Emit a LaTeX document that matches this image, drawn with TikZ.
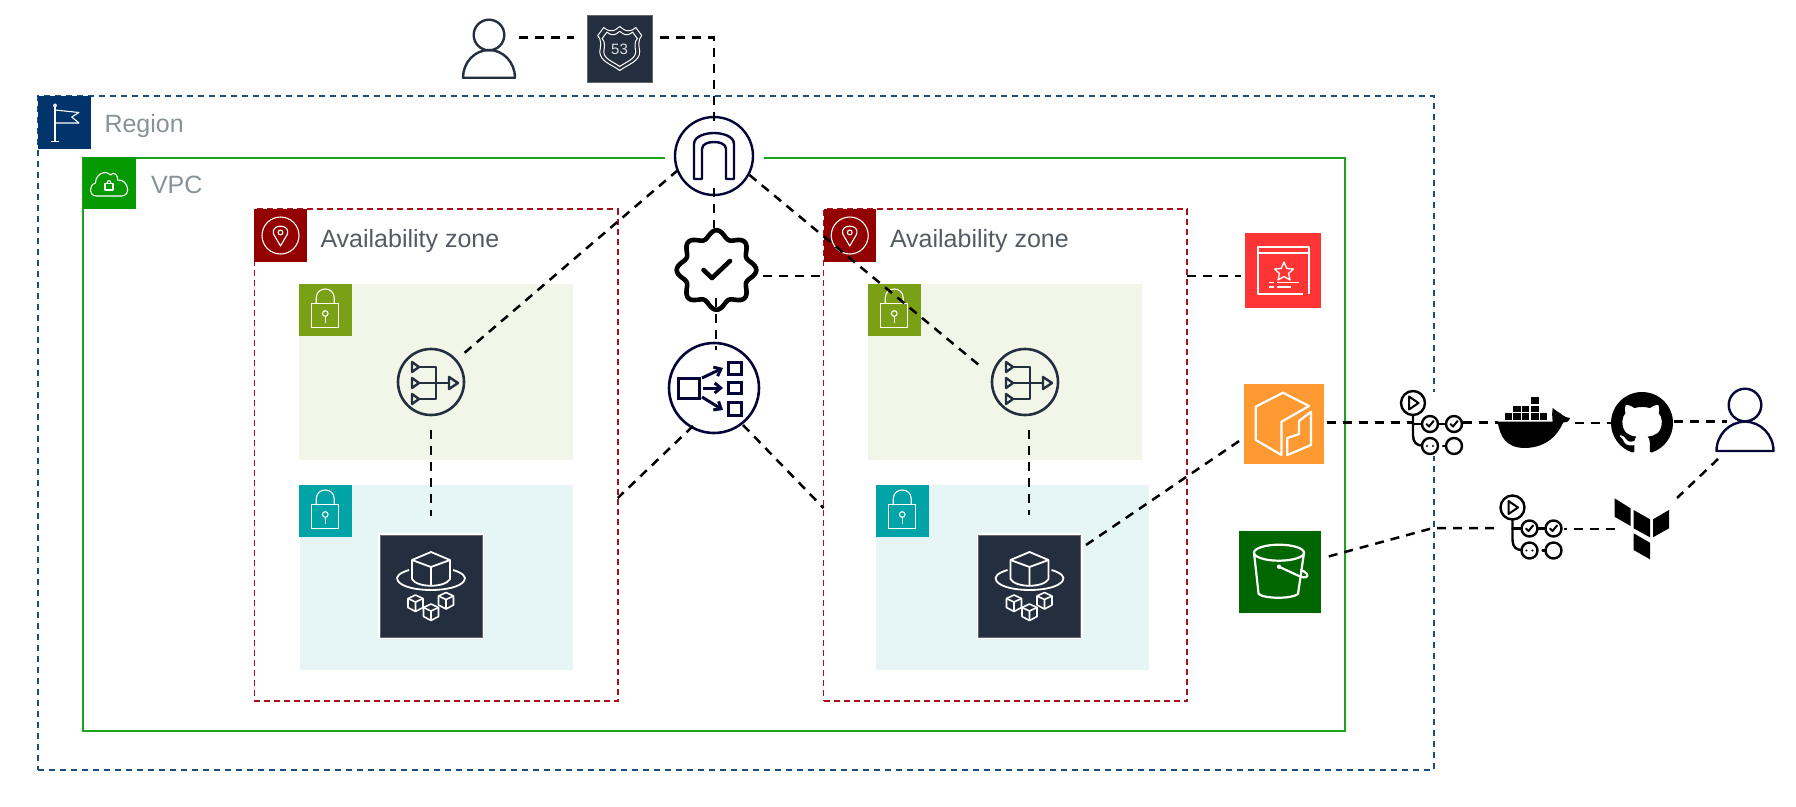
\documentclass[tikz,border=0pt]{standalone}
\usepackage{fontspec}
\setmainfont{Liberation Sans}
\usetikzlibrary{arrows.meta,svg.path}
\definecolor{regionc}{HTML}{1B4F80}
\definecolor{regiontag}{HTML}{00346B}
\definecolor{vpcc}{HTML}{1CA51C}
\definecolor{vpctag}{HTML}{069A00}
\definecolor{azc}{HTML}{A5101E}
\definecolor{aztag}{HTML}{930000}
\definecolor{pubfill}{HTML}{F2F6E8}
\definecolor{pubtag}{HTML}{7AA116}
\definecolor{privfill}{HTML}{E6F6F7}
\definecolor{privtag}{HTML}{00A4A6}
\definecolor{slate}{HTML}{232F3E}
\definecolor{navy}{HTML}{05053A}
\definecolor{certc}{HTML}{FF3535}
\definecolor{ecrc}{HTML}{FF9A33}
\definecolor{s3c}{HTML}{006600}
\definecolor{greytxt}{HTML}{879196}
\definecolor{darktxt}{HTML}{545B64}
\tikzset{
  x=1pt,y=-1pt,
  box/.style={inner sep=0pt,outer sep=0pt,minimum width=#1},
  conn/.style={draw=black,line width=2.5pt,dash pattern=on 9pt off 7pt},
  regionbox/.style={box=1396pt,minimum height=674pt,draw=regionc,line width=1.3pt,dash pattern=on 6pt off 5pt},
  vpcbox/.style={box=1262pt,minimum height=573pt,draw=vpcc,line width=1.6pt},
  azbox/.style={box=363.5pt,minimum height=492pt,draw=azc,line width=1.5pt,dash pattern=on 6pt off 4pt},
  tagbox/.style={box=52.5pt,minimum height=52.5pt,fill=#1},
  subnetbox/.style 2 args={box=#1,minimum height=#2},
  iconnode/.style 2 args={box=#1,minimum height=#2},
  sq/.style={box=#1,minimum height=#1},
  disc/.style={circle,inner sep=0pt,outer sep=0pt,minimum size=#1,fill=white},
  lbl/.style={inner sep=0pt,outer sep=0pt,anchor=base west,font=\fontsize{25}{30}\selectfont},
  wl/.style={draw=white,line width=1.1pt,line join=round},
  wt/.style={draw=white,line width=2.2pt,line join=round,line cap=round},
  ink/.style={draw=black,line width=2.4pt,line cap=round,line join=round},
}
\newcommand{\lockicon}[1]{%
  \begin{scope}[shift={(#1.center)}]
    \draw[wl] (-14,-6.5) rectangle (13,17.5);
    \draw[wl] (-9,-6.5) -- (-9,-12) .. controls (-9,-24) and (9,-24) .. (9,-12) -- (9,-6.5);
    \draw[wl] (0,3.5) circle (2.8);
    \draw[wl] (0,6.3) -- (0,13);
  \end{scope}}
\newcommand{\pinicon}[1]{%
  \begin{scope}[shift={(#1.center)}]
    \draw[wl] (0,0) circle (18.5);
    \draw[wl] (0,10.5) -- (-7,-1.5) .. controls (-10,-12) and (10,-12) .. (7,-1.5) -- cycle;
    \draw[wl] (0,-3) circle (2.4);
  \end{scope}}
\newcommand{\naticon}[1]{%
  \begin{scope}[shift={(#1.center)},line join=round]
    \draw[draw=slate,line width=2.6pt] (0,0) circle (33);
    \foreach \yy in {-15,1,17} {\draw[draw=slate,line width=2.4pt] (-19,\yy-5) -- (-12,\yy) -- (-19,\yy+5) -- cycle;}
    \draw[draw=slate,line width=2.4pt] (-12,-15) -- (5,-15) -- (5,17) -- (-12,17);
    \draw[draw=slate,line width=2.4pt] (-12,1) -- (18,1);
    \draw[draw=slate,line width=2.4pt] (18,-5) -- (27,1) -- (18,7) -- cycle;
  \end{scope}}
\newcommand{\smallcube}[2]{%
  \begin{scope}[shift={(#1,#2)}]
    \draw[wl,line width=1.6pt] (0,-8) -- (7.5,-4.5) -- (7.5,4.5) -- (0,8.5) -- (-7.5,4.5) -- (-7.5,-4.5) -- cycle;
    \draw[wl,line width=1.6pt] (-7.5,-4.5) -- (0,-1) -- (7.5,-4.5) (0,-1) -- (0,8.5);
  \end{scope}}
\newcommand{\eksicon}[1]{%
  \begin{scope}[shift={(#1.center)}]
    \draw[wl,line width=1.8pt] (0,-34) -- (19,-26) -- (19,-7) .. controls (14,2) and (-14,2) .. (-19,-7) -- (-19,-26) -- cycle;
    \draw[wl,line width=1.8pt] (-19,-26) -- (0,-19) -- (19,-26) (0,-19) -- (0,0);
    \draw[wl,line width=1.8pt] (-22,-16) .. controls (-32,-13) and (-36,-9) .. (-33,-5) .. controls (-25,7) and (25,7) .. (33,-5) .. controls (36,-9) and (32,-13) .. (22,-16);
    \smallcube{-15.5}{17}
    \smallcube{15}{14.5}
    \smallcube{0}{26}
  \end{scope}}
\newcommand{\ghaicon}[1]{%
  \begin{scope}[shift={(#1.center)}]
    \draw[ink] (-18,-20.5) circle (12);
    \draw[ink,line width=2pt] (-22,-27) -- (-12.5,-20.5) -- (-22,-14) -- cycle;
    \draw[ink] (-18,-8.5) -- (-18,12) .. controls (-18,19) and (-14,22) .. (-9,22);
    \draw[ink] (-18,0.5) -- (-9,0.5);
    \draw[ink] (-1,22.5) circle (8);
    \draw[ink] (-1,0.5) circle (8);
    \draw[ink] (23,0.5) circle (8);
    \draw[ink] (23,22.5) circle (8);
    \draw[ink] (7,0.5) -- (15,0.5);
    \draw[ink] (12,22.5) -- (15,22.5);
    \draw[ink,line width=2pt] (-4.5,0.5) -- (-2,3) -- (2.5,-2.5);
    \draw[ink,line width=2pt] (19.5,0.5) -- (22,3) -- (26.5,-2.5);
    \fill (-4,22.5) circle (1.1) (2,22.5) circle (1.1);
  \end{scope}}
\newcommand{\usericon}[7]{% name color headdy headr halfw bodytopdy bodybotdy
  \begin{scope}[shift={(#1.center)}]
    \draw[draw=#2,line width=2.4pt] (0,#3) circle (#4);
    \draw[draw=#2,line width=2.4pt,line join=round] (-#5,#7) .. controls (-#5,{#7-(#7-#6)*0.55}) and ({-#5*0.55},#6) .. (0,#6) .. controls ({#5*0.55},#6) and (#5,{#7-(#7-#6)*0.55}) .. (#5,#7) -- cycle;
  \end{scope}}
\begin{document}
\begin{tikzpicture}
\useasboundingbox (0,0) rectangle (1796,806);
% containers
\node[regionbox] (region) at (736,433) {};
\node[vpcbox] (vpc) at (714,444.5) {};
\node[azbox] (az1) at (436,455) {};
\node[azbox] (az2) at (1005.25,455) {};
\node[subnetbox={274pt}{176pt},fill=pubfill] (pub1) at (436,372) {};
\node[subnetbox={274pt}{176pt},fill=pubfill] (pub2) at (1005,372) {};
\node[subnetbox={273pt}{185pt},fill=privfill] (priv1) at (436,577.5) {};
\node[subnetbox={273pt}{185pt},fill=privfill] (priv2) at (1012.5,577.5) {};
% tags
\node[tagbox=regiontag] (regiontagn) at (64.25,122.5) {};
\begin{scope}[shift={(regiontagn.center)}]
  \draw[wl] (-9.25,-16.5) -- (-9.25,19) (-13.5,19) -- (-5,19);
  \draw[wl] (-9.25,-17) circle (1.5);
  \draw[wl] (-9.25,-12.5) -- (14.75,-10) -- (7.5,-5.5) -- (14.75,0.5) -- (-9.25,0.5);
\end{scope}
\node[tagbox=vpctag] (vpctagn) at (109.5,183) {};
\begin{scope}[shift={(vpctagn.center)}]
  \draw[wl] (-13,13) .. controls (-21,13) and (-21,2) .. (-14,0) .. controls (-14,-8) and (-5,-14) .. (1,-8) .. controls (4,-12) and (9,-8) .. (8,-3) .. controls (19,-4) and (22,13) .. (12,13) -- cycle;
  \draw[wl] (-4.5,0.5) rectangle (3.5,7);
  \draw[wl] (-2.5,0.5) .. controls (-2.5,-3.5) and (1.5,-3.5) .. (1.5,0.5);
\end{scope}
\node[tagbox=aztag] (aztag1) at (280.5,235.5) {};
\pinicon{aztag1}
\node[tagbox=aztag] (aztag2) at (849.75,235.5) {};
\pinicon{aztag2}
\node[tagbox=pubtag] (pubtag1) at (325.25,310) {};
\lockicon{pubtag1}
\node[tagbox=pubtag] (pubtag2) at (894.25,310) {};
\lockicon{pubtag2}
\node[tagbox=privtag] (privtag1) at (325.25,511) {};
\lockicon{privtag1}
\node[tagbox=privtag] (privtag2) at (902.25,511) {};
\lockicon{privtag2}
% labels
\node[lbl,text=greytxt] (regionlbl) at (104.5,132.7) {Region};
\node[lbl,text=greytxt] (vpclbl) at (151,193) {VPC};
\node[lbl,text=darktxt] (azlbl1) at (320.5,247) {Availability zone};
\node[lbl,text=darktxt] (azlbl2) at (890,247) {Availability zone};
% user 1 and route 53
\node[iconnode={52pt}{58pt}] (user1) at (489,49) {};
\usericon{user1}{slate}{-14}{15.3}{26}{1}{28.7}
\node[sq=65pt,minimum height=67pt,fill=slate,draw=gray!70!slate,line width=.8pt] (r53) at (619.75,48.5) {};
\begin{scope}[shift={(r53.center)}]
  \draw[wl,line width=1pt] (-22,-13) -- (-16,-21) .. controls (-12,-17) and (-7,-17) .. (-4,-19) -- (0,-22) -- (4,-19) .. controls (7,-17) and (12,-17) .. (16,-21) -- (22,-13) .. controls (18,-9) and (19,-2) .. (20,3) .. controls (20,13) and (8,16) .. (0,22) .. controls (-8,16) and (-20,13) .. (-20,3) .. controls (-19,-2) and (-18,-9) .. (-22,-13) -- cycle;
  \begin{scope}[scale=.8,yshift=-.5pt]
  \draw[wl,line width=1pt] (-22,-13) -- (-16,-21) .. controls (-12,-17) and (-7,-17) .. (-4,-19) -- (0,-22) -- (4,-19) .. controls (7,-17) and (12,-17) .. (16,-21) -- (22,-13) .. controls (18,-9) and (19,-2) .. (20,3) .. controls (20,13) and (8,16) .. (0,22) .. controls (-8,16) and (-20,13) .. (-20,3) .. controls (-19,-2) and (-18,-9) .. (-22,-13) -- cycle;
  \end{scope}
\end{scope}
\node[inner sep=0pt,text=white!85!slate,font=\fontsize{15}{18}\selectfont] (r53txt) at (619.5,49.5) {53};
% internet gateway
\node[box=99pt,minimum height=99pt,fill=white] (igwbg) at (714.5,156) {};
\node[disc=78pt,draw=navy,line width=2.4pt] (igw) at (714,156) {};
\begin{scope}[shift={(igw.center)}]
  \draw[draw=navy,line width=2.4pt,line join=round] (-20,23) -- (-20,-12) .. controls (-20,-20) and (-8,-23) .. (0,-23) .. controls (8,-23) and (20,-20) .. (20,-12) -- (20,23) -- (12,23) -- (12,-7) .. controls (12,-12) and (6,-14) .. (0,-14) .. controls (-6,-14) and (-12,-12) .. (-12,-7) -- (-12,23) -- cycle;
\end{scope}
% certificate badge
\node[disc=80pt,fill=none] (badge) at (716.5,270) {};
\begin{scope}[shift={(badge.center)}]
  \draw[draw=black,line width=4.6pt,line join=round] plot[domain=0:360,samples=121] ({(36+3.8*cos(8*\x))*cos(\x)},{(36+3.8*cos(8*\x))*sin(\x)}) -- cycle;
  \draw[draw=black,line width=4.6pt,line cap=round,line join=round] (-13,0) -- (-4.5,8) -- (13.5,-9);
\end{scope}
% load balancer
\node[disc=90pt,draw=navy,line width=2.6pt] (alb) at (714,388) {};
\begin{scope}[shift={(alb.center)},every path/.append style={draw=navy,line width=3pt}]
  \draw (-36,-10) rectangle (-15,10);
  \draw (14,-26) rectangle (27,-14);
  \draw (14,-6) rectangle (27,5);
  \draw (14,14) rectangle (27,27);
  \draw[-{Straight Barb[length=6pt,width=10pt]}] (-12,-10) -- (9,-20);
  \draw[-{Straight Barb[length=6pt,width=10pt]}] (-11,0) -- (9,0);
  \draw[-{Straight Barb[length=6pt,width=10pt]}] (-12,9) -- (9,22);
\end{scope}
% nat gateways
\node[disc=67pt,fill=none] (nat1) at (431,382) {};
\naticon{nat1}
\node[disc=67pt,fill=none] (nat2) at (1025,382) {};
\naticon{nat2}
% EKS
\node[sq=106pt,fill=white] (eks1halo) at (431,586) {};
\node[sq=102pt,fill=slate,draw=gray!70!slate,line width=.8pt] (eks1) at (431,586) {};
\eksicon{eks1}
\node[sq=106pt,fill=white] (eks2halo) at (1029.5,586) {};
\node[sq=102pt,fill=slate,draw=gray!70!slate,line width=.8pt] (eks2) at (1029.5,586) {};
\eksicon{eks2}
% certificate manager
\node[box=75.5pt,minimum height=75pt,fill=certc] (cert) at (1283,270.5) {};
\begin{scope}[shift={(cert.center)}]
  \draw[wl,line width=1.3pt] (26,23.5) -- (26,-23.5) -- (-25,-23.5) -- (-25,23.5) -- (20,23.5);
  \draw[wl,line width=1.3pt] (-25,-17.5) -- (26,-17.5);
  \draw[wl,line width=1.3pt] (1,-8.5) -- (3.8,-2) -- (10.5,-1.5) -- (5.5,3) -- (7,9.5) -- (1,6) -- (-5,9.5) -- (-3.5,3) -- (-8.5,-1.5) -- (-1.8,-2) -- cycle;
  \draw[wl,line width=1.3pt] (-14,12.2) -- (-9,12.2) (-6,12.2) -- (15.5,12.2) (-14,16.5) -- (-9,16.5) (-6,16.5) -- (8,16.5);
\end{scope}
% ECR
\node[sq=80pt,fill=ecrc] (ecr) at (1283.5,424) {};
\begin{scope}[shift={(ecr.center)}]
  \draw[wt] (25.5,-18) -- (-0.5,-31.3) -- (-27.8,-17.3) -- (-27.8,16) -- (-2,31) -- (-2,-2.3) -- cycle;
  \draw[wt] (27.5,-12.3) -- (27.5,21) -- (3.8,31) -- (3.8,14) -- (15.5,10) -- (15.5,-3) -- cycle;
\end{scope}
% S3
\node[sq=82pt,fill=s3c] (s3) at (1280,572) {};
\begin{scope}[shift={(s3.center)}]
  \draw[wt] (-1,-19.3) ellipse (25 and 8);
  \draw[wt] (-26,-19.3) -- (-21.4,22) .. controls (-15,27) and (12,27) .. (18,22) -- (24,-19.3);
  \draw[wt] (-1,-5.3) -- (19,4) .. controls (24,6.5) and (29,5.5) .. (27,2) .. controls (26,0) and (23,-1) .. (21,-2);
  \fill[white] (-1,-5.3) circle (2.2);
\end{scope}
% CI/CD side
\node[box=63pt,minimum height=64pt,fill=white] (gha1) at (1431,423.5) {};
\ghaicon{gha1}
\node[iconnode={72pt}{51pt}] (docker) at (1534,422.5) {};
\begin{scope}[shift={(docker.center)}]
  \fill (-36.4,-0.8) -- (18.7,-0.8) .. controls (18,-6) and (18,-11) .. (18.7,-14.5) .. controls (22,-12) and (25,-9.5) .. (26,-9.5) .. controls (29,-6.5) and (32,-5) .. (36,-4.5) .. controls (35,-1) and (32,0.5) .. (29,0.2) .. controls (24,12) and (13,25) .. (-9,25.5) .. controls (-28,25.5) and (-34,14) .. (-36.4,-0.8) -- cycle;
  \foreach \xx in {-29,-20.6,-12,-2.6,5.8} {\fill (\xx,-9.5) rectangle ++(7.4,7);}
  \foreach \xx in {-20.6,-12,-2.6} {\fill (\xx,-16.8) rectangle ++(7.4,6.6);}
  \fill (-2.6,-25.5) rectangle ++(7.4,7);
\end{scope}
\node[disc=62pt,fill=none] (github) at (1642,423) {};
\begin{scope}[shift={(1611,392)},scale=3.875,yscale=-1]
  \fill svg {M 8 0 C 3.58 0 0 3.58 0 8 c 0 3.54 2.29 6.53 5.47 7.59 c 0.4 0.07 0.55 -0.17 0.55 -0.38 c 0 -0.19 -0.01 -0.82 -0.01 -1.49 c -2.01 0.37 -2.53 -0.49 -2.69 -0.94 c -0.09 -0.23 -0.48 -0.94 -0.82 -1.13 c -0.28 -0.15 -0.68 -0.52 -0.01 -0.53 c 0.63 -0.01 1.08 0.58 1.23 0.82 c 0.72 1.21 1.87 0.87 2.33 0.66 c 0.07 -0.52 0.28 -0.87 0.51 -1.07 c -1.78 -0.2 -3.64 -0.89 -3.64 -3.95 c 0 -0.87 0.31 -1.59 0.82 -2.15 c -0.08 -0.2 -0.36 -1.02 0.08 -2.12 c 0 0 0.67 -0.21 2.2 0.82 c 0.64 -0.18 1.32 -0.27 2 -0.27 c 0.68 0 1.36 0.09 2 0.27 c 1.53 -1.04 2.2 -0.82 2.2 -0.82 c 0.44 1.1 0.16 1.92 0.08 2.12 c 0.51 0.56 0.82 1.27 0.82 2.15 c 0 3.07 -1.87 3.75 -3.65 3.95 c 0.29 0.25 0.54 0.73 0.54 1.48 c 0 1.07 -0.01 1.93 -0.01 2.2 c 0 0.21 0.15 0.46 0.55 0.38 C 13.71 14.53 16 11.54 16 8 c 0 -4.42 -3.58 -8 -8 -8 z};
\end{scope}
\node[iconnode={58pt}{65pt}] (user2) at (1745,419.5) {};
\usericon{user2}{navy}{-14.5}{16.3}{28.5}{2.2}{31.5}
\node[box=63pt,minimum height=62pt,fill=white] (gha2) at (1530.5,528) {};
\ghaicon{gha2}
\node[iconnode={54.5pt}{61pt}] (tf) at (1642,528.5) {};
\begin{scope}[shift={(tf.center)}]
  \fill (-27.5,-30.2) -- (-11.4,-20.2) -- (-11.4,-2.5) -- (-27.5,-11.8) -- cycle;
  \fill (-8.4,-18.5) -- (8,-9.2) -- (8,8.8) -- (-8.4,-0.2) -- cycle;
  \fill (11,-9.2) -- (27,-18.5) -- (27,-0.2) -- (11,8.8) -- cycle;
  \fill (-8.4,4.8) -- (8,14.2) -- (8,30.8) -- (-8.4,21.5) -- cycle;
\end{scope}
% connectors
\coordinate (bend) at (1433,528);
\draw[conn] ([shift={(30,-11.5)}]user1.center) -- ([shift={(-45.75,-11)}]r53.center);
\draw[conn] ([shift={(40.25,-11)}]r53.center) -| ([shift={(0,-29)}]igw.center);
\draw[conn] ([shift={(0,32)}]igw.center) -- ([shift={(-2.5,-42)}]badge.center);
\draw[conn] ([shift={(-0.5,28)}]badge.center) -- ([shift={(2,-38)}]alb.center);
\draw[conn] ([shift={(-36,14)}]igw.center) -- ([shift={(31,-27)}]nat1.center);
\draw[conn] ([shift={(35.5,19)}]igw.center) -- ([shift={(-42.5,-14)}]nat2.center);
\draw[conn] ([shift={(46.5,6)}]badge.center) -- ([shift={(0,-179)}]az2.west);
\draw[conn] ([shift={(-21,38)}]alb.center) -- ([shift={(0,43)}]az1.east);
\draw[conn] ([shift={(29,37)}]alb.center) -- ([shift={(0,53)}]az2.west);
\draw[conn] ([shift={(0,-179)}]az2.east) -- ([shift={(-42.5,5.5)}]cert.center);
\draw[conn] ([shift={(0,48)}]nat1.center) -- ([shift={(0,-70)}]eks1.center);
\draw[conn] ([shift={(4,48)}]nat2.center) -- ([shift={(-0.5,-71)}]eks2.center);
\draw[conn] ([shift={(56.5,-41)}]eks2.center) -- ([shift={(-39.9,14)}]ecr.center);
\draw[conn] ([shift={(43.1,-1.3)}]ecr.center) -- ([shift={(-18,-0.8)}]gha1.center);
\draw[conn] ([shift={(32,-0.8)}]gha1.center) -- ([shift={(-36,0.2)}]docker.center);
\draw[conn] ([shift={(41,0.5)}]docker.center) -- ([shift={(-31,0)}]github.center);
\draw[conn] ([shift={(32,-1.3)}]github.center) -- ([shift={(-18,2.2)}]user2.center);
\draw[conn] ([shift={(-27,39.5)}]user2.center) -- ([shift={(35,-30.5)}]tf.center);
\draw[conn] ([shift={(-27,0.5)}]tf.center) -- ([shift={(33.5,1)}]gha2.center);
\draw[conn] ([shift={(-36.5,0)}]gha2.center) -- (bend) -- ([shift={(46.6,-15)}]s3.center);
\end{tikzpicture}
\end{document}
